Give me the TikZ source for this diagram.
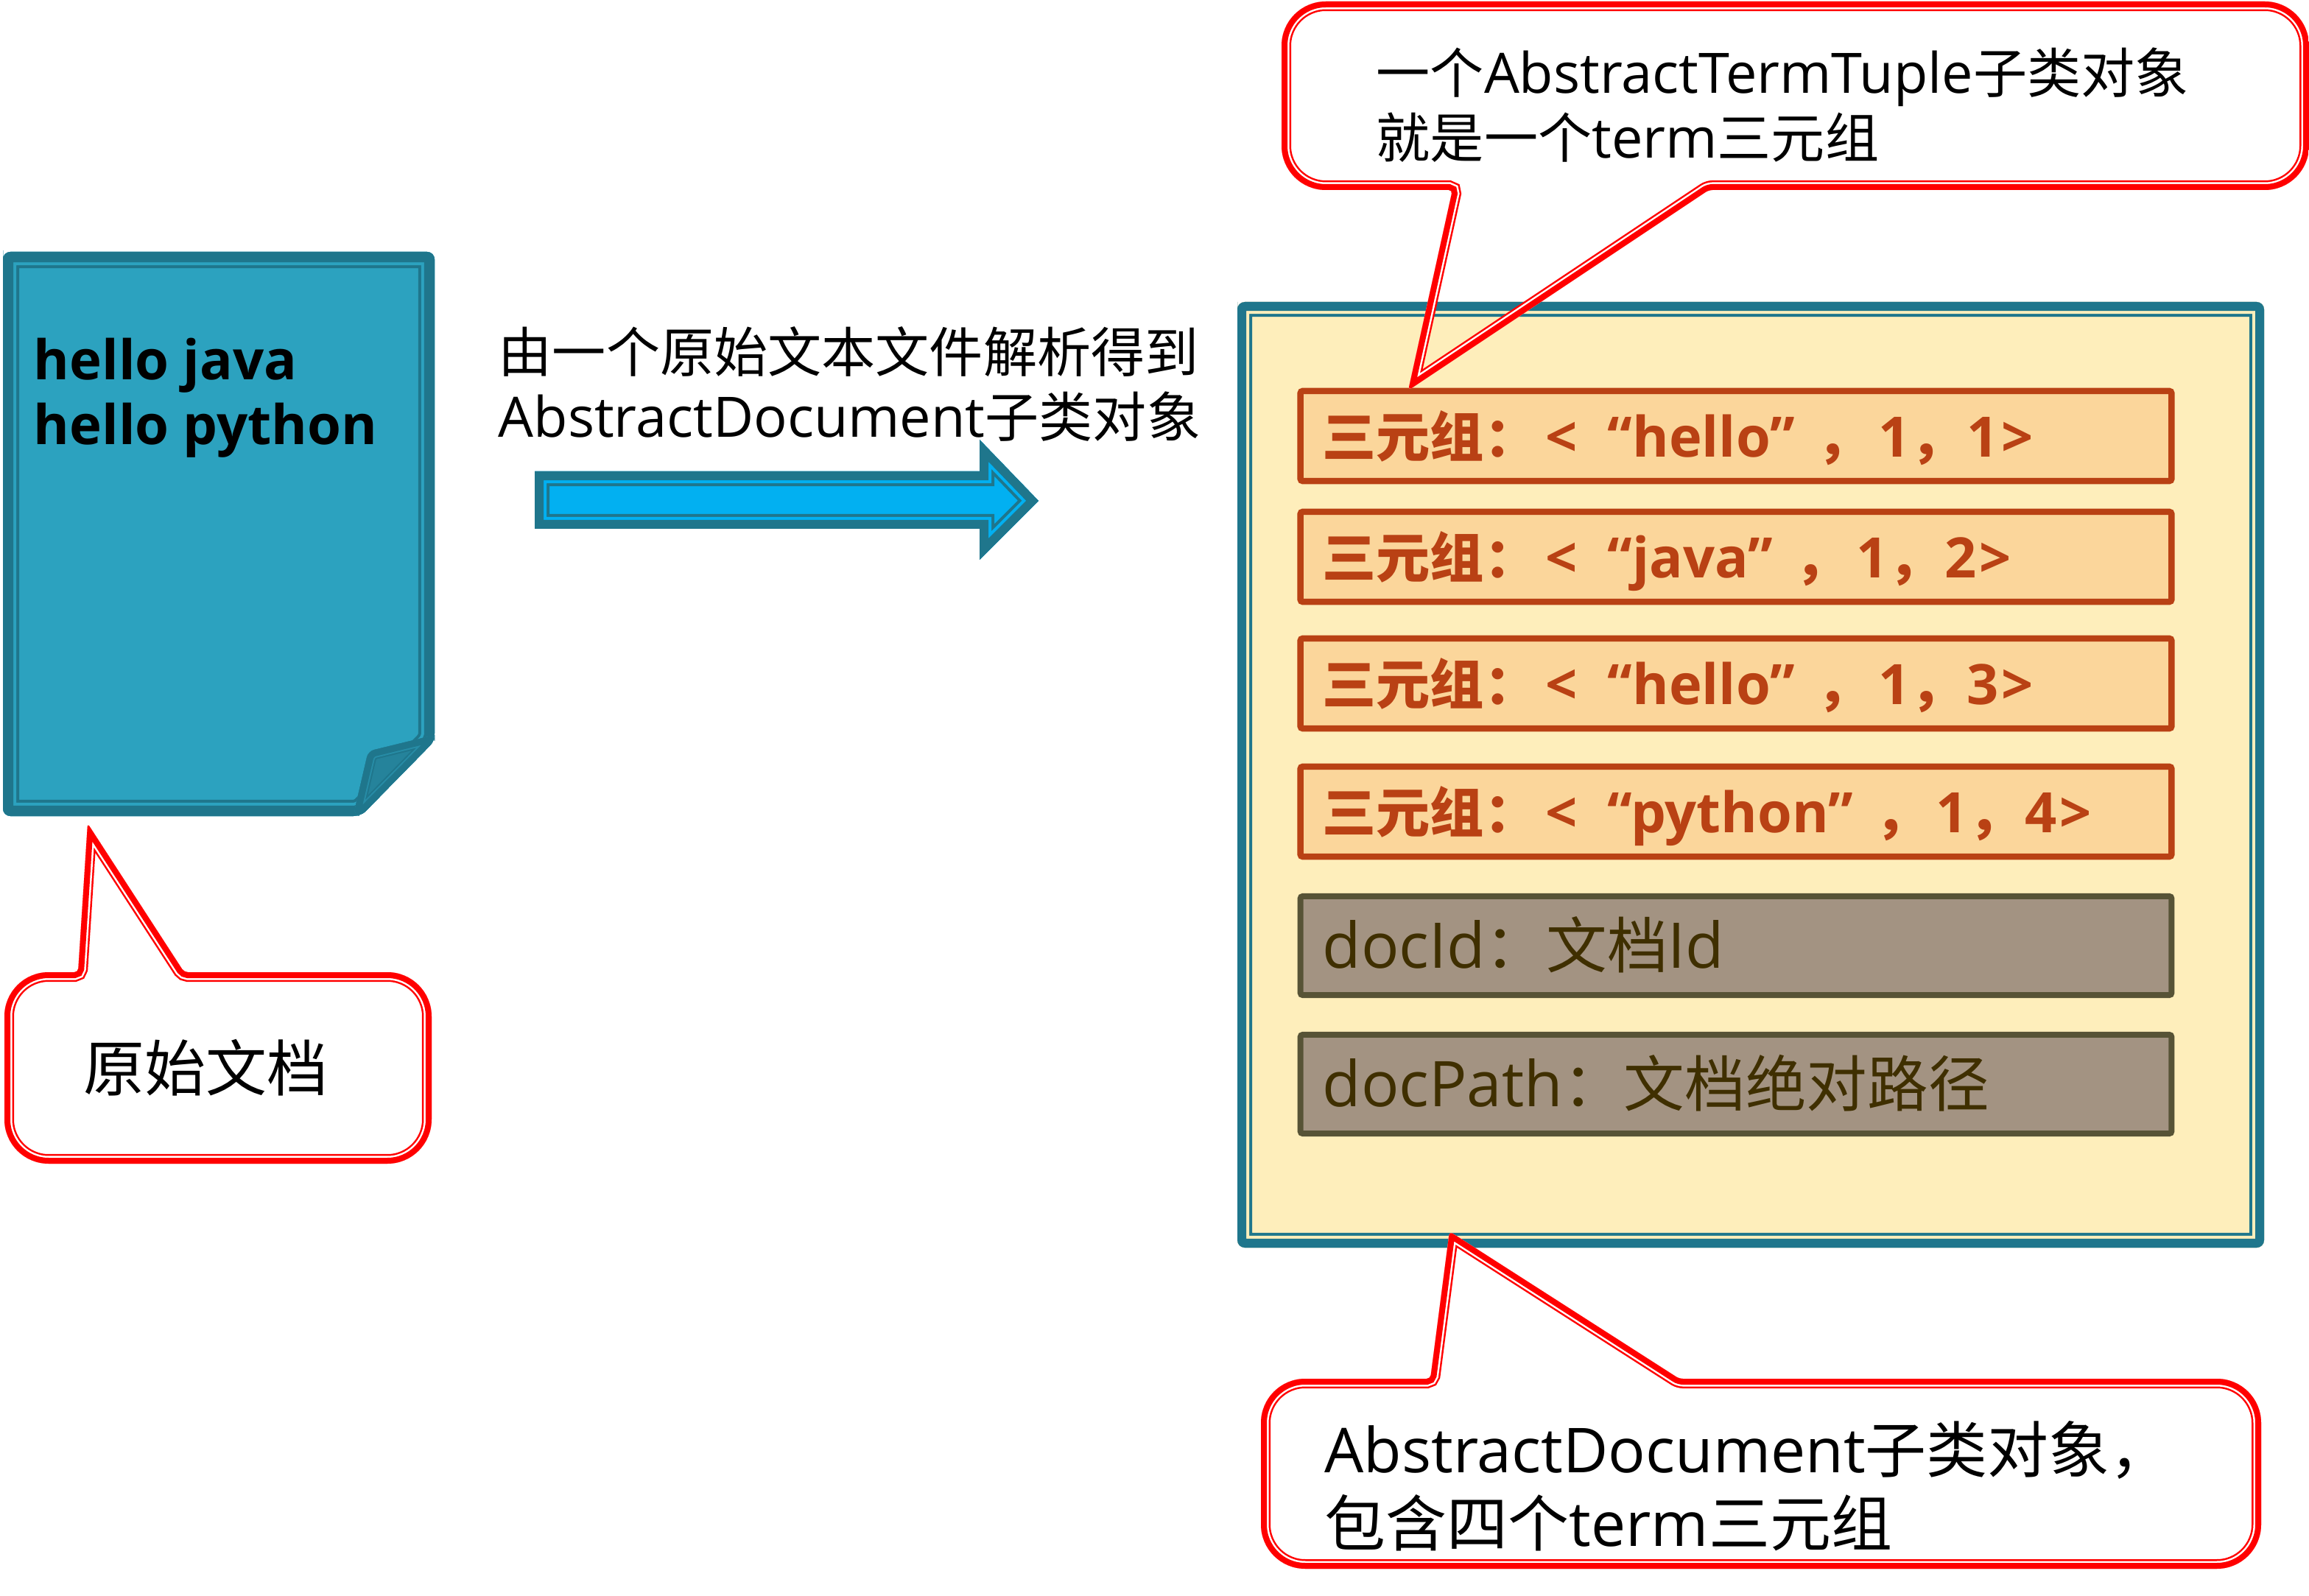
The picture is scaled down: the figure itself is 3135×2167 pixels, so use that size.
\documentclass[tikz,border=0pt]{standalone}
\usepackage{fontspec}
\setmainfont[Scale=1.035]{Open Sans}
\newfontfamily\cjk{Noto Sans CJK SC}
\newcommand\zh[1]{{\cjk #1}}
\newcommand\latinbig[1]{{\fontsize{23.1}{28.45}\selectfont #1}}
\newcommand\triple[2]{\zh{三元组：}\hspace{.1cm}<\hspace{.16cm} “#1”\hspace{.3cm}\zh{，}\hspace{.1cm}1\zh{，}\hspace{.04cm}#2\hspace{.04cm}>}
\definecolor{teal}{HTML}{1F768C}
\definecolor{docblue}{HTML}{2CA2BF}
\definecolor{folded}{HTML}{25839B}
\definecolor{arrowblue}{HTML}{02B0F1}
\definecolor{cream}{HTML}{FEEEBB}
\definecolor{rowfill}{HTML}{FBD69B}
\definecolor{rowline}{HTML}{B94114}
\definecolor{grayfill}{HTML}{A39382}
\definecolor{grayline}{HTML}{575336}
\definecolor{graytext}{HTML}{3F2F00}
\newcommand\compound[7]{%
  \begin{scope}
    \path[fill=#4] #1;
    \clip #1;
    \draw[#2,line width={(#5+#6+#7)*0.02cm},line join=miter] #1;
    \draw[#3,line width={(#5+#6)*0.02cm},line join=miter] #1;
    \draw[#2,line width={#5*0.02cm},line join=miter] #1;
  \end{scope}}
\tikzset{
  rowbase/.style={draw,anchor=center,minimum width=11.82cm,minimum height=1.22cm,
    inner xsep=.3cm,inner ysep=0pt,text width=11.22cm,align=left,rounded corners=.03cm},
  tripbox/.style={rowbase,fill=rowfill,draw=rowline,line width=.085cm,text=rowline,
    font=\fontsize{20.8}{25}\selectfont\bfseries,text height=.75cm,text depth=.19cm},
  infobox/.style={rowbase,fill=grayfill,draw=grayline,line width=.08cm,text=graytext,
    minimum height=1.34cm,font=\fontsize{23.5}{28}\selectfont,text height=.8cm,text depth=.2cm},
  smalltext/.style={anchor=north west,inner sep=0pt,align=left,text=black,
    font=\fontsize{20.8}{25}\selectfont},
  bigtext/.style={anchor=north west,inner sep=0pt,align=left,text=black,
    font=\fontsize{23.6}{28.45}\selectfont},
}
\begin{document}
\begin{tikzpicture}[x=0.01cm,y=-0.01cm]
\useasboundingbox (0,0) rectangle (3135,2167);
% document
\compound{(4,350) [rounded corners=.1cm] -- (4,342) -- (590,342) -- (590,1006) -- (490,1108) -- (4,1108) -- cycle}{teal}{docblue}{docblue}{14}{4}{4}
\compound{(590,998) [rounded corners=.08cm] -- (500,1020) -- (480,1106) -- (490,1108) -- (590,1006) -- cycle}{teal}{folded!70!docblue}{folded}{9}{2}{2}
\node[anchor=north west,inner sep=0pt,align=left,font=\fontsize{20.4}{25}\selectfont\bfseries] (doctext) at (45,458) {hello java\\hello python};
% arrow
\node[smalltext] (arrowtext) at (676,443) {\zh{由一个原始文本文件解析得到}\\AbstractDocument\zh{子类对象}};
\compound{(726,640) -- (1330,640) -- (1330,597) -- (1410,680) -- (1330,760) -- (1330,718) -- (726,718) -- cycle}{teal}{arrowblue}{arrowblue}{12}{4}{4}
% main box
\compound{(1680,420) [rounded corners=.1cm] -- (1680,410) -- (3074,410) -- (3074,1694) -- (1680,1694) -- cycle}{teal}{cream}{cream}{12}{4}{4}
\node[tripbox] (r1) at (2357,592) {\triple{hello}{1}};
\node[tripbox] (r2) at (2357,756) {\triple{java}{2}};
\node[tripbox] (r3) at (2357,928) {\triple{hello}{3}};
\node[tripbox] (r4) at (2357,1102) {\triple{python}{4}};
\node[infobox] (r5) at (2357,1284) {docId\zh{：文档}Id};
\node[infobox] (r6) at (2357,1472) {docPath\zh{：文档绝对路径}};
% callouts
\compound{(2700,258) [rounded corners=.6cm] -- (3135,258) -- (3135,2) -- (1740,2) -- (1740,258) [rounded corners=.05cm] -- (1972,258) -- (1912,530) -- (2320,258) -- cycle}{red}{white}{none}{8}{2.5}{2.5}
\node[smalltext] (toptext) at (1868,64) {\zh{一个}AbstractTermTuple\zh{子类对象}\\\zh{就是一个}term\zh{三元组}};
\compound{(300,1320) [rounded corners=.6cm] -- (586,1320) -- (586,1580) -- (6,1580) -- (6,1320) [rounded corners=.05cm] -- (106,1320) -- (119,1118) -- (250,1320) -- cycle}{red}{white}{none}{8}{2.5}{2.5}
\node[bigtext] (origtext) at (113,1410) {\zh{原始文档}};
\compound{(2400,1872) [rounded corners=.6cm] -- (3070,1872) -- (3070,2130) -- (1712,2130) -- (1712,1872) [rounded corners=.05cm] -- (1942,1872) -- (1968,1672) -- (2280,1872) -- cycle}{red}{white}{none}{8}{2.5}{2.5}
\node[bigtext] (bottomtext) at (1798,1929) {\latinbig{AbstractDocument}\zh{子类对象，}\\\zh{包含四个}\latinbig{term}\zh{三元组}};
\end{tikzpicture}
\end{document}
